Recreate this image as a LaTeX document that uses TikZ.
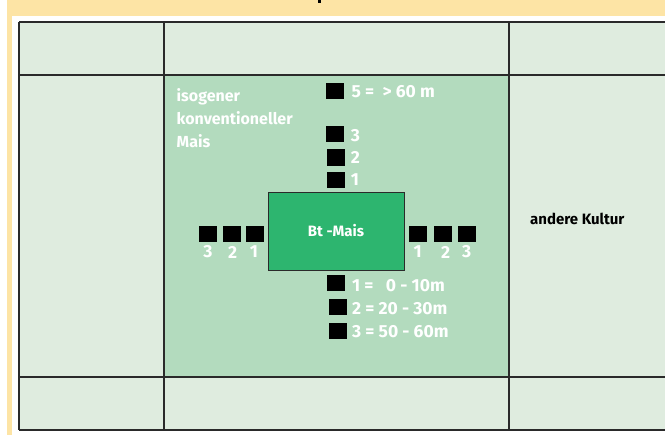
\documentclass[tikz,border=0pt]{standalone}
\usepackage{fontspec}
\setmainfont{Fira Sans}
\definecolor{bandyellow}{HTML}{FDE4A5}
\definecolor{cellgreen}{HTML}{DFECDF}
\definecolor{midgreen}{HTML}{B3DBBE}
\definecolor{btgreen}{HTML}{2DB56F}
\definecolor{gridgray}{HTML}{2A2A2A}
\tikzset{
  gridline/.style={draw=gridgray, line width=1.1pt},
  sq/.style={fill=black, inner sep=0pt, minimum width=18pt, minimum height=16pt},
  numlab/.style={text=white, font=\bfseries\fontsize{17.5}{20}\selectfont, inner sep=0pt},
  seclab/.style={text=white, font=\bfseries\fontsize{16}{23.3}\selectfont, inner sep=0pt},
  btbox/.style={fill=btgreen, draw=gridgray, line width=0.9pt, minimum width=136pt, minimum height=78pt, text=white, font=\bfseries\fontsize{15}{18}\selectfont}
}
\begin{document}
\begin{tikzpicture}[x=1pt,y=-1pt]
\useasboundingbox (0,0) rectangle (665,436);
\fill[white] (0,0) rectangle (665,436);
\fill[bandyellow] (7,0) rectangle (665,16);
\fill[bandyellow] (7,0) rectangle (12,435);
\fill[black] (318,0) rectangle (321,3);
% table
\fill[cellgreen] (19,22) rectangle (665,430);
\fill[midgreen] (164,75) rectangle (509,377);
\draw[gridline] (19,22) -- (665,22);
\draw[gridline] (19,75) -- (665,75);
\draw[gridline] (19,377) -- (665,377);
\draw[gridline] (19,430) -- (665,430);
\draw[gridline] (19,22) -- (19,430);
\draw[gridline] (164,22) -- (164,430);
\draw[gridline] (509,22) -- (509,430);
% central box
\node[btbox] (bt) at (336,231) {Bt -Mais};
% left squares
\node[sq] (l3) at (207.7,234) {};
\node[sq] (l2) at (231.8,234) {};
\node[sq] (l1) at (254.5,234) {};
\node[numlab] (l3t) at (208,252) {3};
\node[numlab] (l2t) at (232.7,252) {2};
\node[numlab] (l1t) at (254,252) {1};
% right squares
\node[sq] (r1) at (417.8,234) {};
\node[sq] (r2) at (442.8,234) {};
\node[sq] (r3) at (466.8,234) {};
\node[numlab] (r1t) at (417.7,252) {1};
\node[numlab] (r2t) at (445.7,252) {2};
\node[numlab] (r3t) at (466.7,252) {3};
% top squares
\node[sq] (t5) at (335,91) {};
\node[sq] (t3) at (334.7,134.2) {};
\node[sq] (t2) at (335.5,157.5) {};
\node[sq] (t1) at (335.5,179.5) {};
\node[numlab, anchor=west] (t5t) at (351.5,91.3) {5 =\ \ > 60 m};
\node[numlab, anchor=west] (t3t) at (350.7,135.7) {3};
\node[numlab, anchor=west] (t2t) at (350.7,157.7) {2};
\node[numlab, anchor=west] (t1t) at (350.7,179.3) {1};
% bottom legend
\node[sq] (b1) at (336.2,283) {};
\node[sq] (b2) at (337.8,307) {};
\node[sq] (b3) at (337.8,331) {};
\node[numlab, anchor=west] (b1t) at (352,286) {1 =\ \ \ 0 - 10m};
\node[numlab, anchor=west] (b2t) at (352,308.3) {2 = 20 - 30m};
\node[numlab, anchor=west] (b3t) at (352,331.7) {3 = 50 - 60m};
% section labels
\node[seclab, anchor=west, align=left] (iso) at (176.5,118.3) {isogener\\konventioneller\\Mais};
\node[anchor=west, inner sep=0pt, font=\bfseries\fontsize{15}{18}\selectfont] (ak) at (530,219.3) {andere Kultur};
\end{tikzpicture}
\end{document}
